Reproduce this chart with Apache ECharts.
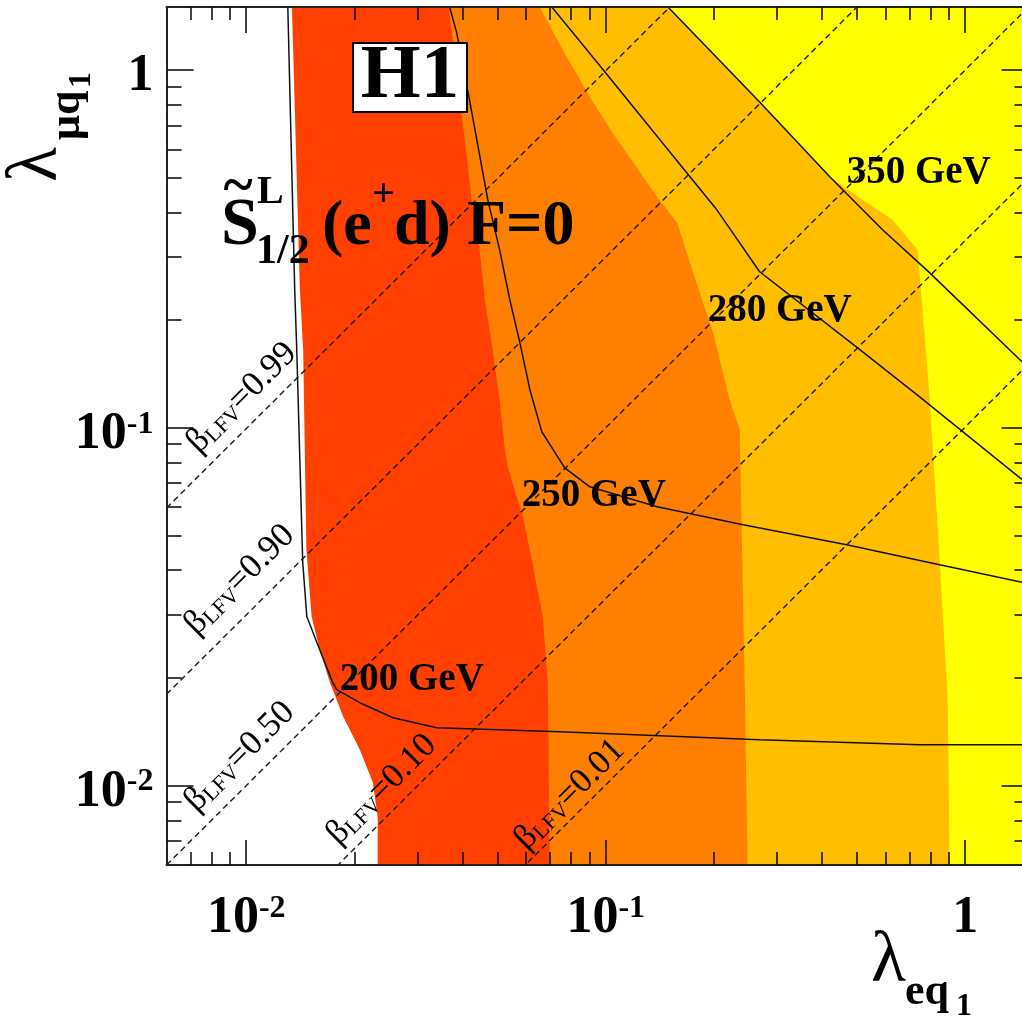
<!DOCTYPE html>
<html>
<head>
<meta charset="utf-8">
<script src="https://cdn.jsdelivr.net/npm/echarts@6/dist/echarts.min.js"></script>
<style>
  html, body { margin: 0; padding: 0; background: #ffffff; }
  #chart { width: 1022px; height: 1020px; }
</style>
</head>
<body>
<div id="chart"></div>
<script>
// Axis ranges (both axes logarithmic)
const xMin = 0.006, xMax = 1.5;
const yMin = 0.006, yMax = 1.5;

// Exclusion-region edges in the (lambda_eq1, lambda_muq1) plane, listed from top to bottom
const edgeRed = [[0.0134, 1.5], [0.0141, 0.243], [0.0144, 0.165], [0.0147, 0.0456], [0.0152, 0.0297], [0.0160, 0.0240], [0.0171, 0.0194], [0.0186, 0.0156], [0.0207, 0.0126], [0.0225, 0.0102], [0.0232, 0.0082], [0.0232, 0.006]];
const edgeOrange = [[0.0366, 1.5], [0.0393, 0.824], [0.0424, 0.433], [0.0446, 0.314], [0.0461, 0.228], [0.0485, 0.165], [0.0507, 0.120], [0.0524, 0.0868], [0.0534, 0.0778], [0.0588, 0.0564], [0.0615, 0.0456], [0.0668, 0.0297], [0.0690, 0.0194], [0.0699, 0.006]];
const edgeAmber = [[0.0655, 1.5], [0.0759, 1.14], [0.0914, 0.824], [0.1046, 0.667], [0.141, 0.433], [0.158, 0.374], [0.179, 0.254], [0.199, 0.184], [0.221, 0.120], [0.236, 0.0987], [0.244, 0.0174], [0.248, 0.006]];
const edgeYellow = [[0.149, 1.5], [0.268, 0.814], [0.420, 0.503], [0.519, 0.433], [0.629, 0.381], [0.738, 0.314], [0.757, 0.228], [0.797, 0.120], [0.849, 0.0428], [0.894, 0.0174], [0.905, 0.006]];

// Mass-limit contours
const contour200 = [[0.01305, 1.5], [0.01364, 0.243], [0.01382, 0.165], [0.01436, 0.042], [0.01474, 0.0297], [0.0160, 0.024], [0.0174, 0.0194], [0.01785, 0.01854], [0.0207, 0.01705], [0.0256, 0.01548], [0.0339, 0.01452], [0.0745, 0.01415], [0.268, 0.01344], [0.747, 0.0130], [1.5, 0.0130]];
const contour250 = [[0.0368, 1.5], [0.0385, 1.27], [0.0418, 0.824], [0.0470, 0.433], [0.0507, 0.314], [0.0541, 0.228], [0.0577, 0.173], [0.0615, 0.128], [0.0664, 0.0975], [0.0769, 0.0773], [0.0903, 0.0684], [0.139, 0.0602], [0.241, 0.0536], [0.468, 0.0471], [0.849, 0.0414], [1.5, 0.0367]];
const contour280 = [[0.0708, 1.5], [0.0962, 1.03], [0.168, 0.516], [0.204, 0.406], [0.268, 0.273], [0.499, 0.168], [0.747, 0.122], [1.5, 0.0693]];
const contour350 = [[0.149, 1.5], [0.268, 0.814], [0.420, 0.503], [0.590, 0.357], [0.797, 0.271], [1.5, 0.147]];
const contourMass = ['200 GeV', '250 GeV', '280 GeV', '350 GeV'];

// Branching-ratio lines beta_LFV
const betaValues = [0.99, 0.90, 0.50, 0.10, 0.01];
const betaText = ['0.99', '0.90', '0.50', '0.10', '0.01'];

// Tick values and their labels
const majorTicks = [0.01, 0.1, 1];
const majorTickText = [['10', '-2'], ['10', '-1'], ['1', '']];
const minorTicks = [0.007, 0.008, 0.009, 0.02, 0.03, 0.04, 0.05, 0.06, 0.07, 0.08, 0.09, 0.2, 0.3, 0.4, 0.5, 0.6, 0.7, 0.8, 0.9];

// ---- styling and placement ----
const SERIF = '"Liberation Serif", "Times New Roman", serif';
const regionFills = [
  { edge: edgeRed, color: '#ff4000' },
  { edge: edgeOrange, color: '#ff8000' },
  { edge: edgeAmber, color: '#ffbf00' },
  { edge: edgeYellow, color: '#ffff00' }
];
const contours = [contour200, contour250, contour280, contour350];
// annotation anchors, in data coordinates
const massLabelAt = [[0.0182, 0.0198], [0.0584, 0.0644], [0.1922, 0.2115], [0.4682, 0.5172]];
const betaLabelAt = [[0.00972, 0.1213], [0.00959, 0.0376], [0.00959, 0.01205], [0.0238, 0.00975], [0.0794, 0.00944]];

function tickLabel(value) {
  let best = 0;
  majorTicks.forEach((t, i) => {
    if (Math.abs(Math.log10(t) - Math.log10(value)) < Math.abs(Math.log10(majorTicks[best]) - Math.log10(value))) best = i;
  });
  const t = majorTickText[best];
  return t[1] ? '{m|' + t[0] + '}{e|' + t[1] + '}' : '{m|' + t[0] + '}';
}
const tickRich = {
  m: { fontFamily: SERIF, fontWeight: 'bold', fontSize: 52, lineHeight: 52, verticalAlign: 'bottom', color: '#000' },
  e: { fontFamily: SERIF, fontWeight: 'bold', fontSize: 32, lineHeight: 16, verticalAlign: 'top', color: '#000' }
};

function makeAxis(dim, position, ticks, len, extra) {
  const base = {
    type: 'log', logBase: 10,
    min: dim === 'x' ? xMin : yMin,
    max: dim === 'x' ? xMax : yMax,
    position: position, z: 10,
    axisLine: { show: false, onZero: false },
    splitLine: { show: false },
    minorTick: { show: false },
    minorSplitLine: { show: false },
    axisTick: { show: true, inside: true, length: len, customValues: ticks, lineStyle: { color: '#111', width: 1.6 } },
    axisLabel: { show: false }
  };
  return Object.assign(base, extra || {});
}
const frameLine = { show: true, onZero: false, lineStyle: { color: '#222', width: 2 } };

const xAxes = [
  makeAxis('x', 'bottom', majorTicks, 25, {
    axisLine: frameLine,
    axisLabel: { show: true, customValues: majorTicks, margin: 28, formatter: tickLabel, rich: tickRich }
  }),
  makeAxis('x', 'bottom', minorTicks, 13),
  makeAxis('x', 'top', majorTicks, 26, { axisLine: frameLine }),
  makeAxis('x', 'top', minorTicks, 13)
];
const yAxes = [
  makeAxis('y', 'left', majorTicks, 27, {
    axisLine: frameLine,
    axisLabel: { show: true, customValues: majorTicks, margin: 13, padding: [13, 0, 0, 0], formatter: tickLabel, rich: tickRich }
  }),
  makeAxis('y', 'left', minorTicks, 15),
  makeAxis('y', 'right', majorTicks, 27, { axisLine: frameLine }),
  makeAxis('y', 'right', minorTicks, 14)
];

const series = [];

// coloured exclusion regions, each filled from its edge to the right-hand side
series.push({
  type: 'custom', coordinateSystem: 'cartesian2d', clip: true, silent: true, z: 1,
  data: regionFills.map((r, i) => [0.012, 0.012, i]),
  encode: { x: 0, y: 1 },
  renderItem: function (params, api) {
    const r = regionFills[params.dataIndex];
    const pts = r.edge.concat([[xMax * 2, yMin / 2], [xMax * 2, yMax * 2]]).map(p => api.coord(p));
    return { type: 'polygon', shape: { points: pts }, style: { fill: r.color } };
  }
});

// beta_LFV = lambda_mu^2 / (lambda_e^2 + lambda_mu^2) lines
betaValues.forEach(b => {
  const ratio = Math.sqrt(b / (1 - b));
  series.push({
    type: 'line', silent: true, clip: true, z: 4, symbol: 'none', showSymbol: false,
    data: [[xMin, ratio * xMin], [xMax, ratio * xMax]],
    lineStyle: { color: '#1a1a1a', width: 1.4, type: [6, 4] }
  });
});

// mass-limit contours
contours.forEach(c => {
  series.push({
    type: 'line', silent: true, clip: true, z: 5, symbol: 'none', showSymbol: false,
    data: c,
    lineStyle: { color: '#111', width: 1.5 }
  });
});

function txt(text, x, y, font, extra) {
  const el = {
    type: 'text', x: x, y: y, z: 20, silent: true,
    style: { text: text, font: font, fill: '#000', align: 'left', verticalAlign: 'middle' }
  };
  if (extra) {
    if (extra.align) el.style.align = extra.align;
    if (extra.rotation) el.rotation = extra.rotation;
  }
  return el;
}

const fixedGraphics = [
  // experiment tag
  { type: 'rect', z: 19, silent: true, shape: { x: 353, y: 43, width: 114, height: 69 }, style: { fill: '#fff', stroke: '#000', lineWidth: 2 } },
  txt('H1', 410, 77.5, 'bold 77px ' + SERIF, { align: 'center' }),
  // leptoquark type
  txt('S', 221, 226, 'bold 68px ' + SERIF),
  txt('~', 238, 189, 'bold 56px ' + SERIF, { align: 'center' }),
  txt('L', 257, 193, 'bold 40px ' + SERIF),
  txt('1/2', 256, 252, 'bold 42px ' + SERIF),
  txt('(e', 322, 227.5, 'bold 64px ' + SERIF),
  txt('+', 372, 196, 'bold 40px ' + SERIF),
  txt('d) F=0', 394, 227.5, 'bold 64px ' + SERIF),
  // x-axis title
  txt('λ', 871, 962, '72px ' + SERIF),
  txt('eq', 905, 993, 'bold 44px ' + SERIF),
  txt('1', 956, 1007, 'bold 32px ' + SERIF),
  // y-axis title
  txt('λ', 37, 182, '72px ' + SERIF, { rotation: Math.PI / 2 }),
  txt('μq', 68, 140, 'bold 44px ' + SERIF, { rotation: Math.PI / 2 }),
  txt('1', 82, 88, 'bold 32px ' + SERIF, { rotation: Math.PI / 2 })
];

const chart = echarts.init(document.getElementById('chart'), null, { renderer: 'canvas' });
chart.setOption({
  animation: false,
  backgroundColor: '#ffffff',
  grid: { left: 166.5, top: 7, width: 862, height: 858, containLabel: false, outerBoundsMode: 'none' },
  xAxis: xAxes,
  yAxis: yAxes,
  series: series
});

// annotations placed through the cartesian coordinate system
const toPx = p => chart.convertToPixel({ xAxisIndex: 0, yAxisIndex: 0 }, p);
const massGraphics = massLabelAt.map((p, i) => {
  const q = toPx(p);
  return txt(contourMass[i], q[0], q[1], 'bold 39px ' + SERIF);
});
const betaRich = {
  g: { fontFamily: SERIF, fontSize: 35, lineHeight: 35, verticalAlign: 'bottom', fill: '#000' },
  s: { fontFamily: SERIF, fontSize: 22, lineHeight: 8, verticalAlign: 'bottom', fill: '#000' }
};
const betaGraphics = betaLabelAt.map((p, i) => {
  const q = toPx(p);
  return {
    type: 'text', x: q[0], y: q[1], rotation: Math.PI / 4, z: 18, silent: true,
    style: { text: '{g|β}{s|LFV}{g|=' + betaText[i] + '}', rich: betaRich, align: 'center', verticalAlign: 'middle' }
  };
});

chart.setOption({ graphic: { elements: fixedGraphics.concat(massGraphics, betaGraphics) } });
</script>
</body>
</html>
